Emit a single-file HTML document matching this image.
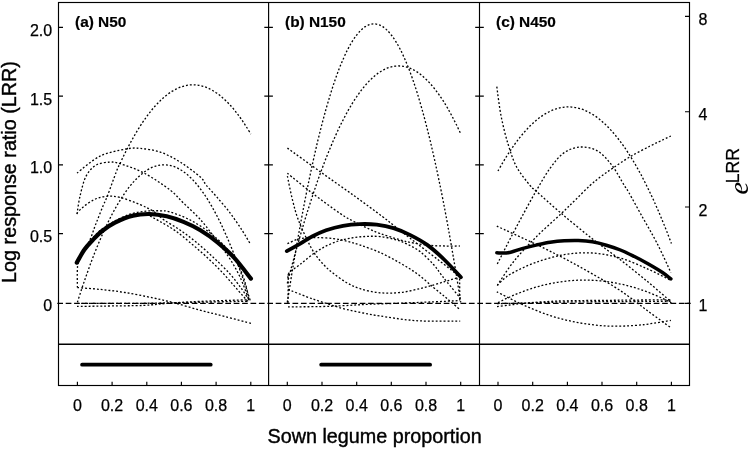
<!DOCTYPE html>
<html><head><meta charset="utf-8"><title>Log response ratio</title>
<style>
html,body{margin:0;padding:0;background:#fff;}
body{width:749px;height:449px;overflow:hidden;}
svg{display:block;font-family:"Liberation Sans",Arial,Helvetica,sans-serif;}
.fr{stroke:#000;stroke-width:1.15;fill:none;}
.tk{stroke:#000;stroke-width:1.15;fill:none;}
.dot{stroke:#000;stroke-width:1.3;fill:none;stroke-dasharray:1.9 2.0;stroke-linejoin:round;}
.bold{stroke:#000;stroke-width:3.5;fill:none;stroke-linecap:round;stroke-linejoin:round;}
.bar{stroke:#000;stroke-width:3.8;fill:none;stroke-linecap:round;}
.zero{stroke:#000;stroke-width:1.15;fill:none;stroke-dasharray:5.7 2.7;}
.tl{font-size:16px;fill:#000;stroke:#000;stroke-width:0.25;}
.pt{font-size:15.4px;font-weight:bold;fill:#000;stroke:#000;stroke-width:0.2;}
.ax{font-size:19.75px;fill:#000;stroke:#000;stroke-width:0.4;}
</style></head><body>
<svg width="749" height="449" viewBox="0 0 749 449">
<rect x="0" y="0" width="749" height="449" fill="#fff"/>

<rect class="fr" x="58.5" y="2.5" width="631.0" height="383.0"/>
<path class="fr" d="M268.6,2.5V385.5M479.5,2.5V385.5"/><path class="fr" style="stroke-width:1.35" d="M58.5,344.2H689.5"/>
<path class="tk" d="M58.5,27.3h4.5M264.3,27.3h8.6M475.2,27.3h8.6M58.5,96.1h4.5M264.3,96.1h8.6M475.2,96.1h8.6M58.5,164.8h4.5M264.3,164.8h8.6M475.2,164.8h8.6M58.5,233.6h4.5M264.3,233.6h8.6M475.2,233.6h8.6M689.5,303.3h-4.5M689.5,207.0h-4.5M689.5,111.7h-4.5M689.5,16.4h-4.5M77.4,385.5v-3.8M112.1,385.5v-3.8M146.8,385.5v-3.8M181.4,385.5v-3.8M216.1,385.5v-3.8M250.8,385.5v-3.8M287.3,385.5v-3.8M322.0,385.5v-3.8M356.7,385.5v-3.8M391.3,385.5v-3.8M426.0,385.5v-3.8M460.7,385.5v-3.8M498.0,385.5v-3.8M532.7,385.5v-3.8M567.4,385.5v-3.8M602.0,385.5v-3.8M636.7,385.5v-3.8M671.4,385.5v-3.8"/>
<path class="zero" d="M57.3,303.3H690.7"/>
<path class="dot" d="M77.4,264.0 C78.5,261.8 81.8,254.7 84.0,250.5 C86.2,246.3 88.5,242.8 90.3,239.0 C92.0,235.2 93.2,231.1 94.5,227.5 C95.8,223.9 97.0,221.2 98.4,217.5 C99.9,213.8 101.7,209.1 103.2,205.5 C104.7,201.9 105.2,201.7 107.4,196.0 C109.6,190.3 114.2,177.2 116.4,171.6 C118.6,165.9 119.3,165.1 120.8,162.0 C122.2,158.9 123.6,155.9 125.1,153.0 C126.5,150.1 128.0,147.3 129.4,144.6 C130.9,141.9 132.3,139.3 133.8,136.7 C135.2,134.2 136.6,131.8 138.1,129.4 C139.5,127.1 141.0,124.8 142.4,122.7 C143.9,120.5 145.3,118.4 146.8,116.5 C148.2,114.5 149.7,112.6 151.1,110.8 C152.5,109.0 154.0,107.3 155.4,105.7 C156.9,104.1 158.3,102.6 159.8,101.2 C161.2,99.8 162.7,98.4 164.1,97.2 C165.5,96.0 167.0,94.8 168.4,93.8 C169.9,92.7 171.3,91.8 172.8,90.9 C174.2,90.0 175.7,89.3 177.1,88.6 C178.6,87.9 180.0,87.3 181.4,86.8 C182.9,86.3 184.3,85.9 185.8,85.6 C187.2,85.3 188.7,85.1 190.1,84.9 C191.6,84.8 193.0,84.8 194.4,84.8 C195.9,84.9 197.3,85.1 198.8,85.3 C200.2,85.5 201.7,85.9 203.1,86.3 C204.6,86.7 206.0,87.3 207.5,87.9 C208.9,88.5 210.3,89.2 211.8,90.0 C213.2,90.8 214.7,91.7 216.1,92.7 C217.6,93.7 219.0,94.7 220.5,95.9 C221.9,97.1 223.3,98.3 224.8,99.7 C226.2,101.1 227.7,102.5 229.1,104.0 C230.6,105.6 232.0,107.2 233.5,108.9 C234.9,110.7 236.4,112.5 237.8,114.4 C239.2,116.3 240.7,118.3 242.1,120.4 C243.6,122.5 245.0,124.7 246.5,127.0 C247.9,129.2 250.1,132.9 250.8,134.1"/>
<path class="dot" d="M77.0,173.1 C80.8,170.3 91.9,160.1 100.1,156.1 C108.3,152.1 119.5,150.3 126.2,149.0 C132.9,147.7 134.5,147.9 140.2,148.4 C145.9,148.9 153.6,149.8 160.3,152.1 C167.0,154.4 173.6,157.9 180.3,162.1 C187.0,166.3 196.1,173.3 200.4,177.1 C204.7,180.9 203.4,181.7 206.1,185.0 C208.8,188.3 212.8,192.3 216.8,197.0 C220.8,201.7 226.0,207.5 230.2,213.1 C234.4,218.7 238.9,225.4 242.2,230.5 C245.5,235.6 248.9,241.6 250.2,243.8"/>
<path class="dot" d="M77.0,214.2 C77.5,211.2 78.5,202.5 80.0,196.2 C81.5,189.8 83.4,181.3 86.1,176.1 C88.8,170.9 92.1,167.4 96.1,165.1 C100.1,162.8 106.1,162.3 110.1,162.1 C114.1,161.9 114.5,161.9 120.2,163.7 C125.9,165.5 135.8,168.7 144.2,173.1 C152.5,177.5 163.8,185.2 170.3,190.2 C176.8,195.2 179.0,198.8 183.4,203.0 C187.8,207.2 192.9,211.8 196.7,215.7 C200.5,219.6 202.2,221.5 206.1,226.4 C210.0,231.3 216.0,239.6 220.0,245.0 C224.0,250.4 226.7,253.7 230.0,259.0 C233.3,264.3 236.8,270.2 240.0,277.0 C243.2,283.8 247.5,296.2 249.0,300.0"/>
<path class="dot" d="M76.7,213.5 C77.7,212.5 79.9,209.7 82.7,207.4 C85.5,205.2 89.6,201.8 93.4,200.0 C97.2,198.2 101.0,196.8 105.5,196.4 C110.0,196.0 114.4,196.0 120.2,197.4 C126.0,198.8 134.6,202.4 140.2,204.7 C145.8,207.0 149.6,208.8 153.6,211.4 C157.6,214.0 159.6,216.9 164.0,220.0 C168.4,223.1 174.7,226.3 180.0,230.0 C185.3,233.7 190.3,237.3 196.0,242.0 C201.7,246.7 208.3,252.7 214.0,258.0 C219.7,263.3 225.5,269.0 230.0,274.0 C234.5,279.0 237.8,283.7 241.0,288.0 C244.2,292.3 247.7,298.0 249.0,300.0"/>
<path class="dot" d="M77.4,302.3 C78.1,300.1 80.3,293.2 81.7,288.9 C83.2,284.5 84.6,280.3 86.1,276.2 C87.5,272.1 89.0,268.0 90.4,264.1 C91.8,260.2 93.3,256.5 94.7,252.8 C96.2,249.1 97.6,245.6 99.1,242.1 C100.5,238.7 102.0,235.4 103.4,232.2 C104.9,229.0 106.3,225.9 107.7,222.9 C109.2,219.9 110.6,217.1 112.1,214.3 C113.5,211.6 115.0,208.9 116.4,206.4 C117.9,203.9 119.3,201.5 120.8,199.2 C122.2,196.9 123.6,194.7 125.1,192.6 C126.5,190.6 128.0,188.6 129.4,186.8 C130.9,185.0 132.3,183.2 133.8,181.6 C135.2,180.0 136.6,178.6 138.1,177.2 C139.5,175.8 141.0,174.5 142.4,173.4 C143.9,172.2 145.3,171.2 146.8,170.3 C148.2,169.4 149.7,168.6 151.1,167.9 C152.5,167.2 154.0,166.6 155.4,166.2 C156.9,165.7 158.3,165.4 159.8,165.1 C161.2,164.9 162.7,164.8 164.1,164.8 C165.5,164.8 167.0,164.9 168.4,165.1 C169.9,165.4 171.3,165.7 172.8,166.2 C174.2,166.6 175.7,167.2 177.1,167.9 C178.6,168.6 180.0,169.4 181.4,170.3 C182.9,171.2 184.3,172.2 185.8,173.4 C187.2,174.5 188.7,175.8 190.1,177.2 C191.6,178.6 193.0,180.0 194.4,181.6 C195.9,183.2 197.3,185.0 198.8,186.8 C200.2,188.6 201.7,190.6 203.1,192.6 C204.6,194.7 206.0,196.9 207.5,199.2 C208.9,201.5 210.3,203.9 211.8,206.4 C213.2,208.9 214.7,211.6 216.1,214.3 C217.6,217.1 219.0,219.9 220.5,222.9 C221.9,225.9 223.3,229.0 224.8,232.2 C226.2,235.4 227.7,238.7 229.1,242.1 C230.6,245.6 232.0,249.1 233.5,252.8 C234.9,256.5 236.4,260.2 237.8,264.1 C239.2,268.0 240.7,272.1 242.1,276.2 C243.6,280.3 245.0,284.5 246.5,288.9 C247.9,293.2 250.1,300.1 250.8,302.3"/>
<path class="dot" d="M77.4,287.6 C77.4,284.0 77.0,271.2 77.6,266.0 C78.2,260.8 79.3,260.1 81.0,256.5 C82.7,252.9 85.2,248.5 88.0,244.5 C90.8,240.5 94.0,236.2 98.0,232.5 C102.0,228.8 106.7,225.6 112.0,222.5 C117.3,219.4 124.3,216.1 130.0,214.2 C135.7,212.3 141.0,211.8 146.0,211.2 C151.0,210.6 156.0,210.7 160.0,210.8 C164.0,210.9 165.1,210.5 170.1,212.0 C175.1,213.5 183.5,216.5 190.2,220.0 C196.9,223.5 204.2,228.3 210.2,233.0 C216.2,237.7 221.7,242.7 226.3,248.0 C230.9,253.3 234.9,259.3 238.0,265.0 C241.1,270.7 243.2,276.2 245.0,282.0 C246.8,287.8 248.3,297.0 249.0,300.0"/>
<path class="dot" d="M150.0,216.0 C151.7,216.9 155.8,219.1 160.0,221.5 C164.2,223.9 170.0,227.0 175.0,230.5 C180.0,234.0 185.0,238.3 190.0,242.5 C195.0,246.7 200.0,250.9 205.0,255.5 C210.0,260.1 215.3,265.2 220.0,270.0 C224.7,274.8 229.2,280.2 233.0,284.5 C236.8,288.8 240.4,293.1 243.0,296.0 C245.6,298.9 247.6,301.0 248.5,302.0"/>
<path class="dot" d="M77.4,287.6 C81.2,287.9 92.1,288.6 100.0,289.4 C107.9,290.2 116.1,291.1 125.0,292.5 C133.9,293.9 145.4,296.3 153.5,298.0 C161.6,299.7 165.8,300.7 173.5,302.7 C181.2,304.7 191.4,307.8 200.0,310.1 C208.6,312.4 216.4,314.3 225.0,316.5 C233.6,318.7 247.1,322.3 251.5,323.5"/>
<path class="dot" d="M77.0,306.4 C81.3,306.3 91.5,306.3 102.7,306.1 C113.9,305.9 133.3,305.8 144.0,305.4 C154.7,304.9 157.5,304.1 166.8,303.4 C176.1,302.7 186.3,302.0 200.0,301.4 C213.7,300.8 240.8,300.0 249.0,299.7"/>
<path class="dot" d="M77.4,303.4 C89.5,303.4 121.4,303.6 150.0,303.2 C178.6,302.8 232.5,301.5 249.0,301.2"/>
<path class="dot" d="M287.3,302.3 C288.0,297.8 290.2,284.0 291.6,275.2 C293.1,266.3 294.5,257.8 296.0,249.4 C297.4,241.0 298.9,232.9 300.3,225.0 C301.8,217.1 303.2,209.5 304.6,202.1 C306.1,194.6 307.5,187.4 309.0,180.5 C310.4,173.5 311.9,166.8 313.3,160.3 C314.8,153.8 316.2,147.5 317.6,141.5 C319.1,135.5 320.5,129.7 322.0,124.1 C323.4,118.5 324.9,113.2 326.3,108.1 C327.8,103.0 329.2,98.1 330.7,93.5 C332.1,88.8 333.5,84.4 335.0,80.2 C336.4,76.1 337.9,72.1 339.3,68.4 C340.8,64.7 342.2,61.2 343.7,58.0 C345.1,54.7 346.5,51.7 348.0,48.9 C349.4,46.1 350.9,43.6 352.3,41.3 C353.8,38.9 355.2,36.9 356.7,35.0 C358.1,33.1 359.6,31.5 361.0,30.1 C362.4,28.7 363.9,27.6 365.3,26.6 C366.8,25.7 368.2,25.0 369.7,24.6 C371.1,24.1 372.6,23.9 374.0,23.9 C375.4,23.9 376.9,24.1 378.3,24.6 C379.8,25.0 381.2,25.7 382.7,26.6 C384.1,27.6 385.6,28.7 387.0,30.1 C388.4,31.5 389.9,33.1 391.3,35.0 C392.8,36.9 394.2,38.9 395.7,41.3 C397.1,43.6 398.6,46.1 400.0,48.9 C401.5,51.7 402.9,54.7 404.3,58.0 C405.8,61.2 407.2,64.7 408.7,68.4 C410.1,72.1 411.6,76.1 413.0,80.2 C414.5,84.4 415.9,88.8 417.4,93.5 C418.8,98.1 420.2,103.0 421.7,108.1 C423.1,113.2 424.6,118.5 426.0,124.1 C427.5,129.7 428.9,135.5 430.4,141.5 C431.8,147.5 433.2,153.8 434.7,160.3 C436.1,166.8 437.6,173.5 439.0,180.5 C440.5,187.4 441.9,194.6 443.4,202.1 C444.8,209.5 446.3,217.1 447.7,225.0 C449.1,232.9 450.6,241.0 452.0,249.4 C453.5,257.7 454.9,266.3 456.4,275.2 C457.8,284.0 460.0,297.8 460.7,302.3"/>
<path class="dot" d="M287.3,283.3 C288.0,280.5 290.2,272.1 291.6,266.7 C293.1,261.2 294.5,255.9 296.0,250.7 C297.4,245.5 298.9,240.4 300.3,235.4 C301.8,230.4 303.2,225.6 304.6,220.8 C306.1,216.0 307.5,211.4 309.0,206.8 C310.4,202.3 311.9,197.8 313.3,193.5 C314.8,189.2 316.2,185.0 317.6,180.9 C319.1,176.8 320.5,172.8 322.0,168.9 C323.4,165.0 324.9,161.2 326.3,157.5 C327.8,153.9 329.2,150.3 330.7,146.9 C332.1,143.4 333.5,140.1 335.0,136.9 C336.4,133.6 337.9,130.5 339.3,127.5 C340.8,124.5 342.2,121.6 343.7,118.8 C345.1,116.0 346.5,113.4 348.0,110.8 C349.4,108.2 350.9,105.8 352.3,103.4 C353.8,101.1 355.2,98.8 356.7,96.7 C358.1,94.6 359.6,92.6 361.0,90.7 C362.4,88.8 363.9,87.0 365.3,85.3 C366.8,83.6 368.2,82.0 369.7,80.6 C371.1,79.1 372.6,77.7 374.0,76.5 C375.4,75.2 376.9,74.1 378.3,73.1 C379.8,72.1 381.2,71.1 382.7,70.3 C384.1,69.5 385.6,68.8 387.0,68.2 C388.4,67.7 389.9,67.2 391.3,66.8 C392.8,66.5 394.2,66.2 395.7,66.1 C397.1,65.9 398.6,65.9 400.0,66.0 C401.5,66.0 402.9,66.2 404.3,66.5 C405.8,66.8 407.2,67.2 408.7,67.7 C410.1,68.2 411.6,68.9 413.0,69.6 C414.5,70.3 415.9,71.2 417.4,72.1 C418.8,73.1 420.2,74.2 421.7,75.3 C423.1,76.5 424.6,77.8 426.0,79.2 C427.5,80.6 428.9,82.1 430.4,83.7 C431.8,85.3 433.2,87.1 434.7,88.9 C436.1,90.7 437.6,92.7 439.0,94.7 C440.5,96.8 441.9,99.0 443.4,101.2 C444.8,103.5 446.3,105.9 447.7,108.4 C449.1,110.9 450.6,113.5 452.0,116.2 C453.5,118.9 454.9,121.8 456.4,124.7 C457.8,127.6 460.0,132.3 460.7,133.8"/>
<path class="dot" d="M287.4,148.1 C292.9,152.1 309.4,163.9 320.5,171.9 C331.6,179.9 343.9,188.4 354.2,195.8 C364.5,203.2 375.8,211.6 382.3,216.5 C388.8,221.4 388.7,221.5 393.4,225.2 C398.1,228.9 402.9,232.7 410.4,238.5 C417.9,244.3 430.0,253.5 438.4,260.0 C446.8,266.5 456.8,274.4 460.5,277.3"/>
<path class="dot" d="M287.4,173.3 C291.5,176.6 303.3,186.3 312.1,193.0 C320.9,199.7 333.3,208.8 340.2,213.5 C347.1,218.2 349.2,219.0 353.5,221.3 C357.8,223.6 361.6,225.5 366.0,227.5 C370.4,229.5 374.3,231.4 380.0,233.5 C385.7,235.6 394.4,238.2 400.0,239.8 C405.6,241.4 408.4,242.1 413.4,243.0 C418.4,243.9 424.7,244.9 430.0,245.4 C435.3,245.9 440.0,245.9 445.0,246.0 C450.0,246.1 457.3,246.0 459.8,246.0"/>
<path class="dot" d="M287.4,176.1 C288.2,180.1 290.7,192.8 292.5,200.0 C294.3,207.2 295.6,212.5 298.0,219.0 C300.4,225.5 303.9,233.2 306.7,239.0 C309.5,244.8 311.9,249.5 314.8,253.8 C317.7,258.1 320.9,261.7 324.0,265.0 C327.1,268.3 329.7,270.6 333.5,273.5 C337.3,276.4 342.4,280.2 346.8,282.7 C351.2,285.2 354.7,287.0 360.2,288.7 C365.7,290.4 373.1,292.2 380.0,292.8 C386.9,293.4 394.5,293.2 401.9,292.3 C409.3,291.4 417.4,289.2 424.4,287.5 C431.4,285.8 438.6,283.4 444.1,281.8 C449.6,280.2 455.3,278.4 457.5,277.7"/>
<path class="dot" d="M287.4,243.7 C289.1,243.0 294.1,240.3 297.4,239.3 C300.7,238.3 303.7,238.1 307.0,237.8 C310.3,237.5 313.0,237.5 317.4,237.6 C321.8,237.7 328.6,238.0 333.5,238.6 C338.4,239.2 342.4,240.0 346.8,241.1 C351.2,242.2 354.7,243.2 360.2,245.1 C365.7,247.0 373.4,249.5 380.0,252.5 C386.6,255.5 393.8,259.4 400.0,263.0 C406.2,266.6 411.8,269.9 417.4,274.0 C423.0,278.1 428.6,283.4 433.5,287.5 C438.4,291.6 442.6,294.8 447.0,298.5 C451.4,302.2 458.0,307.9 460.2,309.8"/>
<path class="dot" d="M287.8,278.0 C288.1,277.1 287.3,274.8 289.4,272.5 C291.4,270.2 296.1,267.6 300.1,264.5 C304.1,261.4 308.9,256.9 313.4,253.8 C317.8,250.7 322.3,247.9 326.8,245.7 C331.3,243.5 335.8,241.7 340.2,240.4 C344.6,239.1 349.1,238.4 353.5,237.7 C357.9,237.0 362.5,236.6 366.9,236.4 C371.3,236.2 375.3,236.1 380.0,236.6 C384.7,237.1 390.5,238.3 395.0,239.5 C399.5,240.7 402.8,242.0 407.0,244.0 C411.2,246.0 415.7,248.2 420.1,251.6 C424.5,255.0 430.1,260.9 433.5,264.5 C436.9,268.1 437.9,270.4 440.2,273.3 C442.4,276.2 443.7,277.9 447.0,282.0 C450.3,286.1 458.0,295.3 460.2,298.0"/>
<path class="dot" d="M288.0,289.4 C291.1,290.6 301.3,294.8 306.7,296.8 C312.1,298.8 315.7,299.9 320.1,301.4 C324.5,302.9 328.6,304.2 333.0,305.6 C337.4,307.0 341.8,308.3 346.8,309.5 C351.8,310.7 357.5,311.9 363.0,313.0 C368.5,314.1 372.7,314.9 380.0,316.0 C387.3,317.1 398.9,318.9 406.7,319.8 C414.5,320.7 417.9,320.9 426.8,321.1 C435.7,321.3 454.6,321.1 460.2,321.1"/>
<path class="dot" d="M288.0,306.8 C293.3,306.8 310.5,306.8 320.0,306.6 C329.5,306.4 336.7,306.0 345.0,305.6 C353.3,305.2 360.8,304.6 370.0,304.2 C379.2,303.8 390.0,303.6 400.0,303.2 C410.0,302.8 420.0,302.4 430.0,302.0 C440.0,301.6 455.2,300.8 460.2,300.6"/>
<path class="dot" d="M288.0,303.0 L288.3,274.0"/>
<path class="dot" d="M459.6,278.5 L459.8,300.4"/>
<path class="dot" d="M496.8,86.7 C497.5,91.6 499.2,106.5 501.1,116.1 C503.0,125.7 505.5,135.8 508.1,144.2 C510.7,152.6 512.8,159.7 516.5,166.7 C520.2,173.7 527.2,181.9 530.5,186.0 C533.8,190.1 531.0,186.5 536.1,191.1 C541.2,195.7 552.0,205.6 561.4,213.5 C570.8,221.4 582.5,231.1 592.3,238.8 C602.1,246.5 611.0,252.6 620.4,259.8 C629.8,267.1 640.0,275.3 648.4,282.3 C656.8,289.3 667.1,298.4 670.9,301.6"/>
<path class="dot" d="M498.0,171.0 C498.7,169.7 500.9,165.8 502.3,163.4 C503.8,160.9 505.2,158.5 506.7,156.2 C508.1,153.9 509.6,151.7 511.0,149.6 C512.5,147.4 513.9,145.4 515.3,143.4 C516.8,141.4 518.2,139.5 519.7,137.7 C521.1,135.9 522.6,134.1 524.0,132.5 C525.5,130.8 526.9,129.2 528.3,127.7 C529.8,126.2 531.2,124.8 532.7,123.5 C534.1,122.1 535.6,120.9 537.0,119.7 C538.5,118.5 539.9,117.4 541.4,116.4 C542.8,115.4 544.2,114.5 545.7,113.6 C547.1,112.8 548.6,112.0 550.0,111.3 C551.5,110.6 552.9,110.0 554.4,109.5 C555.8,109.0 557.2,108.5 558.7,108.2 C560.1,107.8 561.6,107.5 563.0,107.3 C564.5,107.1 565.9,107.0 567.4,106.9 C568.8,106.9 570.2,106.9 571.7,107.1 C573.1,107.2 574.6,107.4 576.0,107.7 C577.5,107.9 578.9,108.3 580.4,108.7 C581.8,109.2 583.3,109.7 584.7,110.3 C586.1,110.9 587.6,111.6 589.0,112.4 C590.5,113.1 591.9,114.0 593.4,114.9 C594.8,115.8 596.3,116.8 597.7,117.9 C599.2,119.0 600.6,120.2 602.0,121.4 C603.5,122.7 604.9,124.0 606.4,125.4 C607.8,126.8 609.3,128.3 610.7,129.9 C612.2,131.5 613.6,133.1 615.0,134.9 C616.5,136.6 617.9,138.4 619.4,140.3 C620.8,142.2 622.3,144.2 623.7,146.2 C625.2,148.3 626.6,150.4 628.0,152.7 C629.5,154.9 630.9,157.2 632.4,159.6 C633.8,161.9 635.3,164.4 636.7,166.9 C638.2,169.5 639.6,172.1 641.1,174.8 C642.5,177.5 643.9,180.3 645.4,183.2 C646.8,186.0 648.3,189.0 649.7,192.0 C651.2,195.0 652.6,198.1 654.1,201.3 C655.5,204.5 656.9,207.8 658.4,211.1 C659.8,214.5 661.3,217.9 662.7,221.4 C664.2,224.9 665.6,228.5 667.1,232.2 C668.5,235.9 670.7,241.6 671.4,243.5"/>
<path class="dot" d="M497.3,264.0 C498.2,262.3 500.2,258.2 502.5,253.8 C504.8,249.4 507.6,243.7 510.9,237.4 C514.2,231.2 517.9,224.0 522.1,216.3 C526.3,208.6 531.4,199.0 536.1,191.0 C540.8,183.0 545.5,174.5 550.2,168.1 C554.9,161.7 559.1,156.1 564.2,152.6 C569.4,149.1 575.5,147.2 581.1,147.0 C586.7,146.8 592.8,148.1 597.9,151.2 C603.0,154.2 607.4,159.5 611.9,165.3 C616.4,171.1 621.8,181.5 624.6,186.0 C627.4,190.5 625.8,187.2 628.8,192.5 C631.8,197.8 638.1,209.3 642.8,217.7 C647.5,226.1 652.2,233.9 656.9,243.0 C661.6,252.1 668.6,267.6 670.9,272.5"/>
<path class="dot" d="M497.3,285.5 C500.0,281.5 507.2,269.6 513.7,261.5 C520.2,253.4 528.2,245.0 536.1,237.0 C544.0,229.0 554.9,219.7 561.4,213.5 C567.9,207.3 570.5,204.7 575.3,200.0 C580.1,195.3 585.7,189.4 590.0,185.5 C594.3,181.6 597.2,179.4 601.0,176.5 C604.8,173.6 607.9,171.4 612.8,168.1 C617.7,164.8 624.0,160.4 630.2,156.7 C636.4,153.0 644.6,148.9 650.2,146.0 C655.8,143.1 660.2,141.2 663.6,139.5 C667.0,137.8 669.7,136.6 670.9,136.0"/>
<path class="dot" d="M496.8,226.1 C503.4,229.2 524.9,239.0 536.1,244.4 C547.3,249.8 554.8,253.5 564.2,258.4 C573.6,263.3 582.9,268.5 592.3,273.9 C601.7,279.3 611.0,284.4 620.4,290.7 C629.8,296.9 640.0,305.2 648.4,311.4 C656.8,317.6 667.1,325.0 670.9,327.7"/>
<path class="dot" d="M497.3,285.2 C498.6,284.0 502.3,280.1 505.0,278.0 C507.7,275.9 508.5,274.9 513.7,272.3 C518.9,269.7 527.7,265.2 536.1,262.3 C544.5,259.4 554.8,256.2 564.2,254.7 C573.6,253.1 582.9,252.4 592.3,253.0 C601.7,253.6 611.0,255.4 620.4,258.1 C629.8,260.8 640.0,265.6 648.4,269.3 C656.8,273.0 667.1,278.6 670.9,280.5"/>
<path class="dot" d="M498.0,302.7 C498.7,302.3 500.9,301.2 502.3,300.5 C503.8,299.7 505.2,299.0 506.7,298.4 C508.1,297.7 509.6,297.0 511.0,296.4 C512.5,295.7 513.9,295.1 515.3,294.5 C516.8,293.9 518.2,293.3 519.7,292.8 C521.1,292.2 522.6,291.7 524.0,291.1 C525.5,290.6 526.9,290.1 528.3,289.6 C529.8,289.1 531.2,288.7 532.7,288.2 C534.1,287.7 535.6,287.3 537.0,286.9 C538.5,286.5 539.9,286.1 541.4,285.7 C542.8,285.3 544.2,285.0 545.7,284.6 C547.1,284.3 548.6,284.0 550.0,283.7 C551.5,283.4 552.9,283.1 554.4,282.8 C555.8,282.6 557.2,282.3 558.7,282.1 C560.1,281.9 561.6,281.7 563.0,281.5 C564.5,281.3 565.9,281.1 567.4,281.0 C568.8,280.8 570.2,280.7 571.7,280.6 C573.1,280.5 574.6,280.4 576.0,280.3 C577.5,280.2 578.9,280.2 580.4,280.1 C581.8,280.1 583.3,280.1 584.7,280.1 C586.1,280.1 587.6,280.1 589.0,280.2 C590.5,280.2 591.9,280.3 593.4,280.3 C594.8,280.4 596.3,280.5 597.7,280.6 C599.2,280.7 600.6,280.9 602.0,281.0 C603.5,281.2 604.9,281.3 606.4,281.5 C607.8,281.7 609.3,281.9 610.7,282.2 C612.2,282.4 613.6,282.6 615.0,282.9 C616.5,283.2 617.9,283.4 619.4,283.8 C620.8,284.1 622.3,284.4 623.7,284.7 C625.2,285.1 626.6,285.4 628.0,285.8 C629.5,286.2 630.9,286.6 632.4,287.0 C633.8,287.4 635.3,287.8 636.7,288.3 C638.2,288.8 639.6,289.2 641.1,289.7 C642.5,290.2 643.9,290.7 645.4,291.2 C646.8,291.8 648.3,292.3 649.7,292.9 C651.2,293.5 652.6,294.0 654.1,294.7 C655.5,295.3 656.9,295.9 658.4,296.5 C659.8,297.2 661.3,297.8 662.7,298.5 C664.2,299.2 665.6,299.9 667.1,300.6 C668.5,301.3 670.7,302.5 671.4,302.8"/>
<path class="dot" d="M496.8,291.8 C501.0,293.9 513.2,300.4 522.1,304.4 C531.0,308.4 540.8,312.6 550.2,315.6 C559.6,318.6 568.9,320.9 578.3,322.6 C587.6,324.3 596.9,325.5 606.3,326.0 C615.6,326.5 626.4,326.0 634.4,325.5 C642.4,325.0 647.9,324.1 654.0,323.2 C660.1,322.3 668.1,320.9 670.9,320.4"/>
<path class="dot" d="M497.0,306.6 C499.2,306.3 505.7,305.5 510.0,305.0 C514.3,304.5 518.0,303.9 523.0,303.4 C528.0,302.9 532.8,302.4 540.0,302.0 C547.2,301.6 552.7,301.1 566.0,300.8 C579.3,300.5 602.4,300.4 620.0,300.2 C637.6,300.0 662.9,299.9 671.5,299.8"/>
<path class="dot" d="M497.0,303.6 C502.5,303.5 518.5,303.3 530.0,303.0 C541.5,302.7 551.0,302.2 566.0,302.0 C581.0,301.8 602.4,301.7 620.0,301.6 C637.6,301.5 662.9,301.3 671.5,301.2"/>
<path class="bold" style="stroke-width:4.2" d="M76.8,262.6 C78.1,260.4 81.8,253.3 84.5,249.5 C87.2,245.7 89.9,243.1 92.8,240.0 C95.7,236.9 98.4,233.9 102.1,231.0 C105.8,228.1 109.8,225.2 115.0,222.6 C120.2,220.0 127.2,217.0 133.0,215.6 C138.8,214.2 144.2,213.9 149.8,214.0 C155.4,214.1 161.1,215.0 166.7,216.3 C172.3,217.6 177.9,219.6 183.5,221.9 C189.1,224.2 194.8,226.9 200.4,230.3 C206.0,233.7 211.6,237.5 217.2,242.1 C222.8,246.7 228.5,251.5 234.1,257.6 C239.7,263.7 248.1,275.1 250.9,278.6"/>
<path class="bold" style="stroke-width:3.8" d="M286.8,251.1 C288.7,250.1 293.9,247.3 298.1,244.9 C302.3,242.5 307.4,238.9 312.1,236.5 C316.8,234.1 321.0,232.1 326.1,230.3 C331.2,228.5 337.4,226.8 343.0,225.8 C348.6,224.8 354.2,224.3 359.8,224.1 C365.4,223.9 371.1,224.0 376.7,224.7 C382.3,225.4 387.9,226.4 393.5,228.1 C399.1,229.8 404.8,232.3 410.4,235.1 C416.0,237.9 421.6,240.8 427.2,244.9 C432.8,249.0 438.5,254.1 444.1,259.5 C449.7,264.9 458.1,274.2 460.9,277.2"/>
<path class="bold" style="stroke-width:3.5" d="M496.8,252.8 C498.7,252.8 503.9,253.5 508.1,252.8 C512.3,252.1 517.4,249.9 522.1,248.6 C526.8,247.3 531.4,246.1 536.1,245.1 C540.8,244.1 545.5,243.0 550.2,242.3 C554.9,241.6 559.5,241.1 564.2,240.8 C568.9,240.5 573.6,240.3 578.3,240.5 C583.0,240.7 587.6,241.0 592.3,241.8 C597.0,242.6 601.6,243.8 606.3,245.2 C611.0,246.6 615.7,248.1 620.4,250.0 C625.1,251.9 629.7,254.2 634.4,256.5 C639.1,258.8 643.7,261.3 648.4,264.0 C653.1,266.7 658.8,270.0 662.5,272.5 C666.2,275.0 669.5,277.8 670.9,278.9"/>
<path class="bar" d="M82.1,364.7H210.7"/>
<path class="bar" d="M321.2,364.7H430.1"/>
<text class="tl" x="52.2" y="35.8" text-anchor="end">2.0</text>
<text class="tl" x="52.2" y="104.6" text-anchor="end">1.5</text>
<text class="tl" x="52.2" y="173.3" text-anchor="end">1.0</text>
<text class="tl" x="52.2" y="242.1" text-anchor="end">0.5</text>
<text class="tl" x="52.2" y="310.8" text-anchor="end">0</text>
<text class="tl" x="698.4" y="310.8">1</text>
<text class="tl" x="698.4" y="215.5">2</text>
<text class="tl" x="698.4" y="120.2">4</text>
<text class="tl" x="698.4" y="24.9">8</text>
<text class="tl" x="77.4" y="410.6" text-anchor="middle">0</text>
<text class="tl" x="112.1" y="410.6" text-anchor="middle">0.2</text>
<text class="tl" x="146.8" y="410.6" text-anchor="middle">0.4</text>
<text class="tl" x="181.4" y="410.6" text-anchor="middle">0.6</text>
<text class="tl" x="216.1" y="410.6" text-anchor="middle">0.8</text>
<text class="tl" x="250.8" y="410.6" text-anchor="middle">1</text>
<text class="tl" x="287.3" y="410.6" text-anchor="middle">0</text>
<text class="tl" x="322.0" y="410.6" text-anchor="middle">0.2</text>
<text class="tl" x="356.7" y="410.6" text-anchor="middle">0.4</text>
<text class="tl" x="391.3" y="410.6" text-anchor="middle">0.6</text>
<text class="tl" x="426.0" y="410.6" text-anchor="middle">0.8</text>
<text class="tl" x="460.7" y="410.6" text-anchor="middle">1</text>
<text class="tl" x="498.0" y="410.6" text-anchor="middle">0</text>
<text class="tl" x="532.7" y="410.6" text-anchor="middle">0.2</text>
<text class="tl" x="567.4" y="410.6" text-anchor="middle">0.4</text>
<text class="tl" x="602.0" y="410.6" text-anchor="middle">0.6</text>
<text class="tl" x="636.7" y="410.6" text-anchor="middle">0.8</text>
<text class="tl" x="671.4" y="410.6" text-anchor="middle">1</text>
<text class="pt" x="75" y="27.3">(a) N50</text>
<text class="pt" x="285" y="27.3">(b) N150</text>
<text class="pt" x="496" y="27.3">(c) N450</text>
<text class="ax" x="374.6" y="443.2" text-anchor="middle">Sown legume proportion</text>
<text class="ax" transform="translate(16,172) rotate(-90)" text-anchor="middle">Log response ratio (LRR)</text>
<g transform="translate(747.6,194.6) rotate(-90)"><text style="font-family:'Liberation Serif','Times New Roman',serif;font-style:italic;font-size:28.3px" x="0" y="0">e</text><text style="font-size:17.6px;stroke:#000;stroke-width:0.25" x="11.3" y="-8.6">LRR</text></g>
</svg></body></html>
